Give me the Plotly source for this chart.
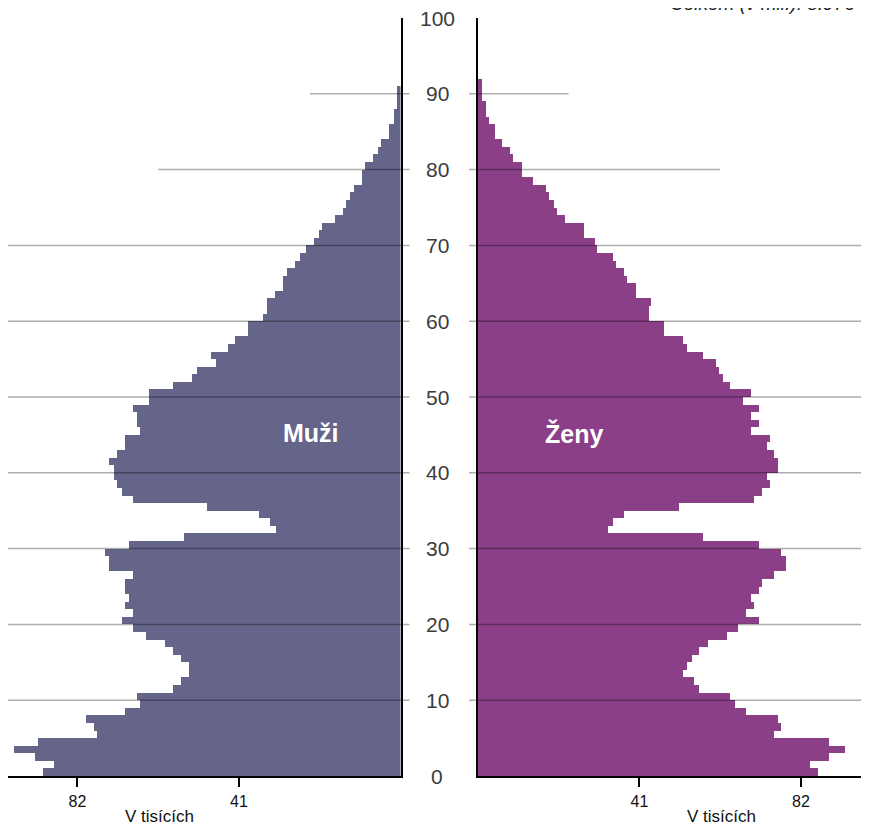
import plotly.graph_objects as go

ages = list(range(0, 92))

men = [90.7, 88.0, 92.8, 98.1, 92.0, 77.0, 77.8, 79.8, 70.0, 66.0,
       66.8, 57.8, 55.8, 53.7, 53.7, 55.8, 57.8, 59.8, 64.7, 67.9,
       70.8, 67.9, 70.0, 68.8, 70.0, 70.0, 67.9, 74.0, 74.0, 74.9,
       68.8, 55.0, 31.7, 33.0, 35.9, 49.0, 67.9, 70.8, 72.0, 72.8,
       72.8, 74.0, 72.0, 70.0, 70.0, 66.0, 66.8, 66.8, 67.9, 63.9,
       63.9, 57.8, 52.9, 51.6, 46.8, 48.0, 43.9, 41.9, 38.7, 38.7,
       35.0, 33.8, 33.8, 31.8, 29.8, 29.8, 28.9, 26.9, 25.6, 24.1,
       22.0, 20.7, 19.9, 16.7, 14.6, 13.8, 12.7, 11.8, 9.7, 9.7,
       9.0, 6.9, 5.8, 4.9, 3.0, 3.0, 1.7, 1.7, 0.8, 0.8,
       0.8, 0.0]

women = [86.2, 84.3, 89.1, 93.2, 89.1, 75.0, 76.9, 76.2, 68.0, 65.2,
         64.0, 56.2, 54.9, 52.1, 53.0, 54.2, 56.2, 58.3, 63.1, 66.0,
         71.3, 68.0, 70.1, 69.3, 71.3, 72.1, 75.0, 78.2, 78.2, 76.9,
         71.3, 57.0, 33.1, 34.2, 37.1, 50.9, 70.1, 72.1, 74.1, 73.3,
         76.2, 76.2, 75.0, 73.3, 74.1, 69.3, 71.3, 69.3, 71.3, 67.2,
         69.3, 64.0, 62.3, 61.1, 60.3, 57.0, 53.0, 52.1, 47.3, 47.3,
         43.3, 43.3, 44.0, 40.0, 40.0, 37.8, 37.1, 35.1, 34.2, 30.1,
         29.6, 26.9, 26.9, 22.1, 20.1, 19.3, 18.0, 17.2, 13.9, 11.1,
         11.1, 9.0, 8.2, 6.2, 4.3, 4.3, 2.9, 2.1, 2.1, 0.9,
         0.9, 0.9]

age_ticks = [0, 10, 20, 30, 40, 50, 60, 70, 80, 90, 100]
x_ticks = [41, 82]
x_ticklabels = ["41", "82"]
full_grid_ages = [10, 20, 30, 40, 50, 60, 70]
partial_grid = {80: 61.5, 90: 23.0}

men_label = "Muži"
women_label = "Ženy"
unit_label = "V tisících"
total_label = "Celkem (v mil.): 8.976"

MEN_COLOR = "#65658A"
WOMEN_COLOR = "#8B3F87"
FONT = "Liberation Sans, Arial, sans-serif"

# the page has an 8px body margin: positions below are page pixels minus OFF
OFF = 8
W, H = 869 - OFF, 826 - OFF
ML, MR = 0, 0
MT = 18 - OFF
MB = H - (776 - OFF)
PW = W - ML - MR
PH = H - MT - MB

left_zero_px = 400.5 - OFF
right_zero_px = 477.9 - OFF
px_per_unit = 3.94

left_dom = [0, (left_zero_px - ML) / PW]
right_dom = [(right_zero_px - ML) / PW, 1]
left_range = [(left_zero_px - ML) / px_per_unit, 0]
right_range = [0, (W - MR - right_zero_px) / px_per_unit]


def px_to_paper(page_px):
    return (page_px - OFF - ML) / PW


def left_val_to_paper(v):
    return (left_zero_px - v * px_per_unit - ML) / PW


def right_val_to_paper(v):
    return (right_zero_px + v * px_per_unit - ML) / PW


fig = go.Figure()
fig.add_trace(go.Bar(
    y=[a + 0.5 for a in ages], x=men, orientation="h", width=1,
    marker=dict(color=MEN_COLOR, line=dict(width=0)),
    xaxis="x", yaxis="y", showlegend=False, hoverinfo="x+y"))
fig.add_trace(go.Bar(
    y=[a + 0.5 for a in ages], x=women, orientation="h", width=1,
    marker=dict(color=WOMEN_COLOR, line=dict(width=0)),
    xaxis="x2", yaxis="y2", showlegend=False, hoverinfo="x+y"))

shapes = []
grid_color = "rgba(0,0,0,0.32)"
inner_left = px_to_paper(409.5)
inner_right = px_to_paper(469)
for a in full_grid_ages:
    shapes.append(dict(type="line", xref="paper", yref="y", x0=0, x1=inner_left,
                       y0=a, y1=a, line=dict(color=grid_color, width=1.5), layer="above"))
    shapes.append(dict(type="line", xref="paper", yref="y", x0=inner_right, x1=1,
                       y0=a, y1=a, line=dict(color=grid_color, width=1.5), layer="above"))
for a, v in partial_grid.items():
    shapes.append(dict(type="line", xref="paper", yref="y", x0=left_val_to_paper(v), x1=inner_left,
                       y0=a, y1=a, line=dict(color=grid_color, width=1.5), layer="above"))
    shapes.append(dict(type="line", xref="paper", yref="y", x0=inner_right, x1=right_val_to_paper(v),
                       y0=a, y1=a, line=dict(color=grid_color, width=1.5), layer="above"))

annotations = []
center_px = 437
for a in age_ticks:
    annotations.append(dict(text=str(a), x=px_to_paper(center_px), xref="paper", y=a, yref="y",
                            showarrow=False, xanchor="center", yanchor="middle",
                            font=dict(family=FONT, size=21, color="#3c3c3c")))

annotations.append(dict(text=men_label, x=22.7, xref="x", y=45.2, yref="y", showarrow=False,
                        xanchor="center", yanchor="middle",
                        font=dict(family=FONT, size=25, color="white", weight="bold")))
annotations.append(dict(text=women_label, x=24.4, xref="x2", y=45.2, yref="y2", showarrow=False,
                        xanchor="center", yanchor="middle",
                        font=dict(family=FONT, size=25, color="white", weight="bold")))

unit_y = -(816 - 776) / PH
annotations.append(dict(text=unit_label, x=px_to_paper(159), xref="paper", y=unit_y, yref="paper",
                        showarrow=False, xanchor="center", yanchor="middle",
                        font=dict(family=FONT, size=17, color="#111111")))
annotations.append(dict(text=unit_label, x=px_to_paper(721), xref="paper", y=unit_y, yref="paper",
                        showarrow=False, xanchor="center", yanchor="middle",
                        font=dict(family=FONT, size=17, color="#111111")))

annotations.append(dict(text=total_label, x=px_to_paper(668), xref="paper",
                        y=1 + 2 / PH, yref="paper", showarrow=False,
                        xanchor="left", yanchor="bottom",
                        font=dict(family=FONT, size=19, color="#222222", style="italic")))

axis_common = dict(showgrid=False, zeroline=False, showline=True, linecolor="black", linewidth=1.5,
                   ticks="outside", ticklen=9, tickwidth=1.5, tickcolor="black",
                   ticklabelstandoff=1,
                   tickfont=dict(family=FONT, size=16, color="#111111"),
                   tickvals=x_ticks, ticktext=x_ticklabels, fixedrange=True)

fig.update_layout(
    width=W, height=H,
    margin=dict(l=ML, r=MR, t=MT, b=MB, pad=0),
    paper_bgcolor="white", plot_bgcolor="white",
    bargap=0, barmode="overlay",
    font=dict(family=FONT),
    xaxis=dict(domain=left_dom, range=left_range, anchor="y", **axis_common),
    xaxis2=dict(domain=right_dom, range=right_range, anchor="y2", **axis_common),
    yaxis=dict(domain=[0, 1], range=[0, 100], anchor="x", side="right", showline=True,
               linecolor="black", linewidth=1.5, showgrid=False, zeroline=False,
               showticklabels=False, ticks="", fixedrange=True),
    yaxis2=dict(domain=[0, 1], range=[0, 100], anchor="x2", side="left", showline=True,
                linecolor="black", linewidth=1.5, showgrid=False, zeroline=False,
                showticklabels=False, ticks="", fixedrange=True),
    shapes=shapes,
    annotations=annotations,
)

fig.write_html("out.html")
